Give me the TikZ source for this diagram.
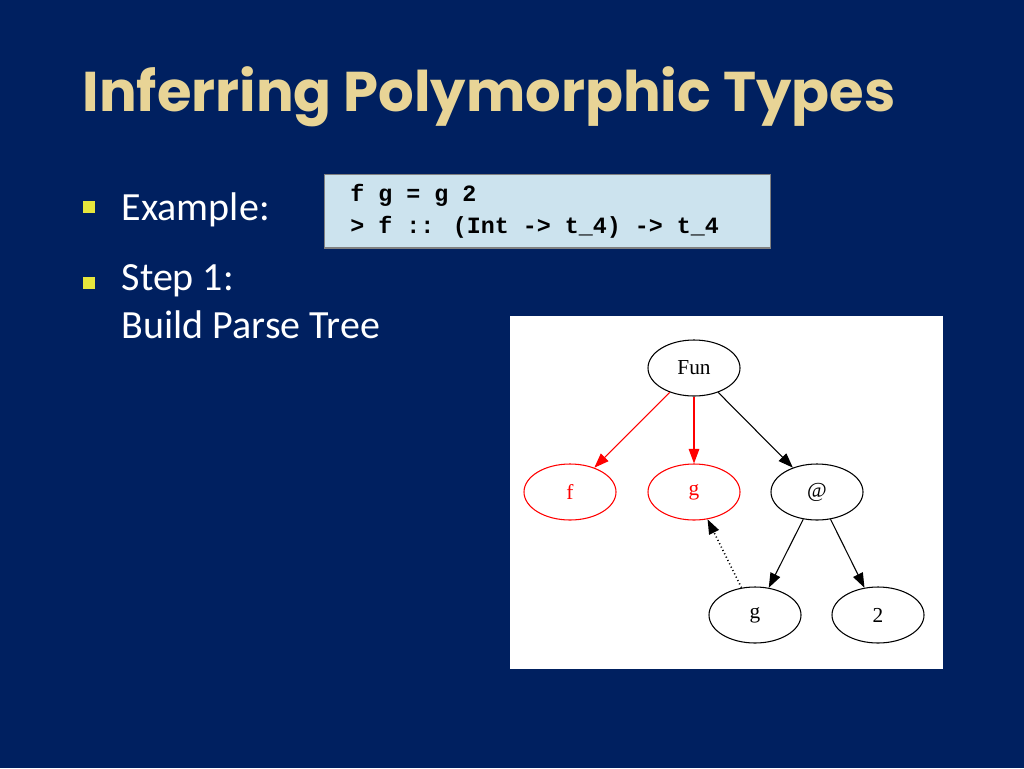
\documentclass[tikz,border=0pt]{standalone}
\usepackage{fontspec}
\setmainfont{Carlito}
\newfontfamily\titlef{Poppins}
\newfontfamily\codef{Liberation Mono}
\newfontfamily\treef{Liberation Serif}
\usetikzlibrary{shapes.geometric,arrows.meta}
\definecolor{bg}{RGB}{0,32,96}
\definecolor{tan}{RGB}{232,212,150}
\definecolor{bul}{RGB}{230,230,60}
\definecolor{codebg}{RGB}{204,227,238}
\tikzset{
 tn/.style={ellipse,draw,minimum width=69pt,minimum height=42pt,inner sep=0pt,font=\treef\fontsize{16}{16}\selectfont,line width=0.8pt},
 rn/.style={tn,draw=red,text=red},
 ed/.style={-{Triangle[length=11pt,width=8pt]},line width=0.8pt},
 bullet/.style={fill=bul,minimum size=9pt,inner sep=0pt},
 body/.style={text=white,font=\fontsize{30}{36}\selectfont,anchor=west,align=left}
}
\begin{document}
\begin{tikzpicture}[x=0.75pt,y=-0.75pt]
\fill[bg] (0,0) rectangle (1024,768);
\useasboundingbox (0,0) rectangle (1024,768);
\node[anchor=west,text=tan,font=\titlef\bfseries\fontsize{42}{46}\selectfont] (title) at (78,97) {Inferring Polymorphic Types};
\node[bullet] (b1) at (89,207) {};
\node[body] (ex) at (117,210) {Example:};
\node[bullet] (b2) at (89,283) {};
\node[body,anchor=north west] (st) at (117,260) {Step 1:\\Build Parse Tree};
\node[draw=gray,fill=codebg,line width=1pt,minimum width=334.5pt,minimum height=55pt,anchor=north west] (code) at (324,174) {};
\node[anchor=west,align=left,font=\codef\bfseries\fontsize{17.5}{24}\selectfont,inner sep=0pt] (ct) at (350,211) {f g = g 2\\> f :: (Int -> t\_4) -> t\_4};
\fill[white] (510,316) rectangle (943,669);
\node[tn] (fun) at (694,368) {Fun};
\node[rn] (f) at (570,492) {f};
\node[rn] (g) at (694,492) {g};
\node[tn] (at) at (817,492) {@};
\node[tn] (g2) at (755,615) {g};
\node[tn] (two) at (878,615) {2};
\draw[ed,red] (fun) -- (f);
\draw[ed,red] (fun) -- (g);
\draw[ed] (fun) -- (at);
\draw[ed] (at) -- (g2);
\draw[ed] (at) -- (two);
\draw[ed,dotted,line width=1.2pt] (g2) -- (g);
\end{tikzpicture}
\end{document}
